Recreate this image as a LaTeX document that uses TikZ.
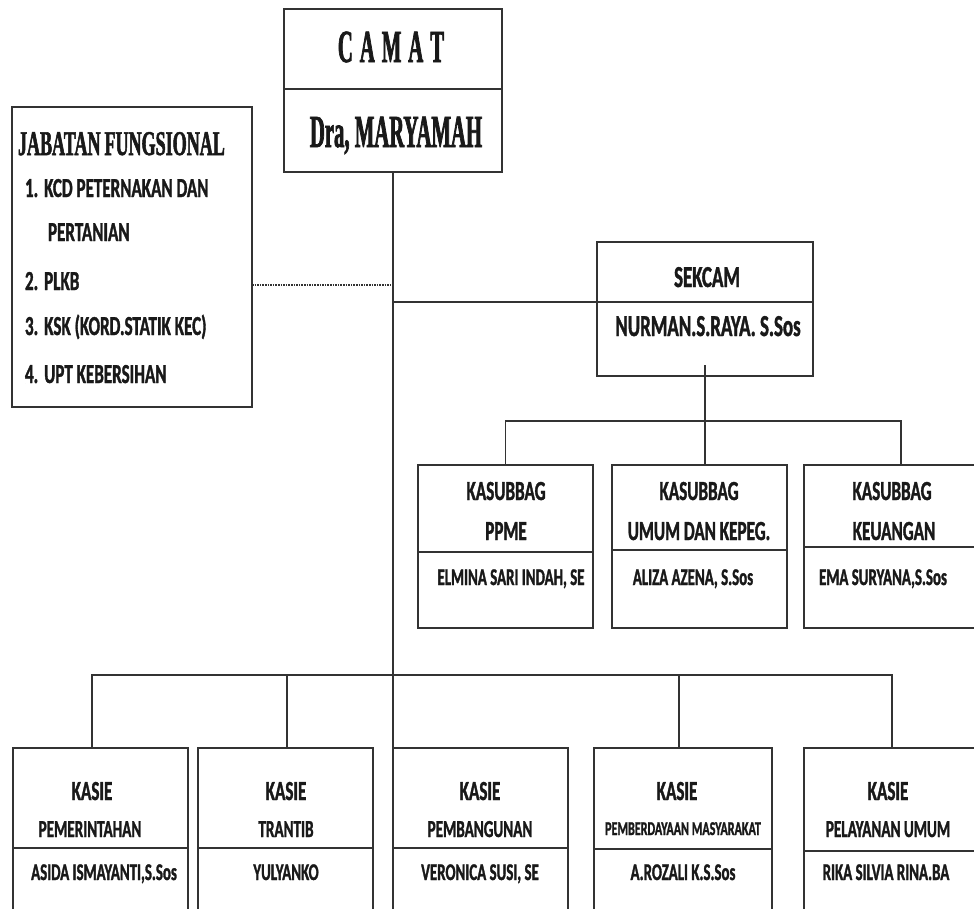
\documentclass[tikz,border=0pt]{standalone}
\usepackage{fontspec}
\newfontfamily\cbf[FakeStretch=0.62,FakeBold=1.2]{Carlito}
\newfontfamily\tmA[FakeStretch=0.45,FakeBold=1.5]{Liberation Serif}
\newfontfamily\tmB[FakeStretch=0.52,FakeBold=1.5]{Liberation Serif}
\newcommand\fhead{\cbf\bfseries\fontsize{27.6}{30}\selectfont}
\newcommand\fsub{\cbf\bfseries\fontsize{24.4}{26}\selectfont}
\newcommand\fname{\cbf\bfseries\fontsize{24}{26}\selectfont}
\newcommand\ftiny{\cbf\bfseries\fontsize{19.5}{21}\selectfont}
\newcommand\fsek{\cbf\bfseries\fontsize{30.5}{32}\selectfont}
\newcommand\fitem{\cbf\bfseries\fontsize{27.5}{30}\selectfont}
\newcommand\fcam{\tmA\bfseries\fontsize{46}{50}\selectfont}
\newcommand\fjt{\tmB\bfseries\fontsize{34.7}{36}\selectfont}
\begin{document}
\begin{tikzpicture}[x=1pt,y=-1pt,
  bx/.style={draw=black!80, line width=1.5pt, inner sep=0, outer sep=0, rectangle},
  dv/.style={draw=black!80, line width=1.4pt},
  ln/.style={draw=black!80, line width=1.1pt},
  tx/.style={inner sep=0, outer sep=0, anchor=base, text=black!90},
  txl/.style={inner sep=0, outer sep=0, anchor=base west, text=black!90}]
\fill[white] (0,0) rectangle (974,908);
\clip (0,0) rectangle (974,908);

% CAMAT
\node[bx, minimum width=218pt, minimum height=163pt] (camat) at (393,90.5) {};
\draw[dv] (284,89) -- (502,89);
\node[tx, font=\fcam] (camatT) at (391,62) {C\kern7pt A\kern7pt M\kern7pt A\kern7pt T};
\node[tx, font=\fcam] (camatN) at (396,147) {Dra, MARYAMAH};

% JABATAN FUNGSIONAL
\node[bx, minimum width=240pt, minimum height=300pt] (jab) at (132,257) {};
\node[txl, font=\fjt] (jabT) at (18,155) {JABATAN\kern4pt FUNGSIONAL};
\node[txl, font=\fitem] (j1) at (25,197) {1.\kern6pt KCD PETERNAKAN DAN};
\node[txl, font=\fitem] (j1b) at (48,241) {PERTANIAN};
\node[txl, font=\fitem] (j2) at (25,290) {2.\kern6pt PLKB};
\node[txl, font=\fitem] (j3) at (25,335) {3.\kern6pt KSK (KORD.STATIK KEC)};
\node[txl, font=\fitem] (j4) at (25,383) {4.\kern6pt UPT KEBERSIHAN};

% SEKCAM
\node[bx, minimum width=216pt, minimum height=134pt] (sekcam) at (705,309) {};
\draw[dv] (597,302) -- (813,302);
\node[tx, font=\fsek] (sekT) at (707,287) {SEKCAM};
\node[tx, font=\fsek] (sekN) at (708,336) {NURMAN.S.RAYA. S.Sos};

% connectors from CAMAT
\coordinate (sdiv) at (597,302);
\coordinate (dj) at (252,285);
\draw[ln] (sdiv) -- (sdiv -| camat.south);
\draw[black!80, line width=1.6pt, densely dotted] (dj) -- (dj -| camat.south);

% KASUBBAG
\node[bx, minimum width=175pt, minimum height=163pt] (kb1) at (505.5,546.5) {};
\node[bx, minimum width=175pt, minimum height=163pt] (kb2) at (699.5,546.5) {};
\node[bx, minimum width=194pt, minimum height=163pt] (kb3) at (901,546.5) {};
\draw[dv] (418,552) -- (593,552);
\draw[dv] (612,550) -- (787,550);
\draw[dv] (804,547) -- (998,547);
\node[tx, font=\fhead] (kb1a) at (506,500) {KASUBBAG};
\node[tx, font=\fhead] (kb1b) at (506,540) {PPME};
\node[tx, font=\fname] (kb1c) at (511,585) {ELMINA SARI INDAH, SE};
\node[tx, font=\fhead] (kb2a) at (699,500) {KASUBBAG};
\node[tx, font=\fhead] (kb2b) at (699,540) {UMUM DAN KEPEG.};
\node[tx, font=\fname] (kb2c) at (693,585) {ALIZA AZENA, S.Sos};
\node[tx, font=\fhead] (kb3a) at (892,500) {KASUBBAG};
\node[tx, font=\fhead] (kb3b) at (894,540) {KEUANGAN};
\node[tx, font=\fname] (kb3c) at (883,585) {EMA SURYANA,S.Sos};

\coordinate (sbar) at (705,421);
\draw[ln] ([yshift=11pt]sekcam.south) -- (sekcam.south |- kb2.north);
\draw[ln] (kb1.north) -- (kb1.north |- sbar) -- (kb3.north |- sbar) -- (kb3.north);

% KASIE
\node[bx, minimum width=175pt, minimum height=192pt] (ks1) at (100.5,844) {};
\node[bx, minimum width=175pt, minimum height=192pt] (ks2) at (285.5,844) {};
\node[bx, minimum width=175pt, minimum height=192pt] (ks3) at (480.5,844) {};
\node[bx, minimum width=178pt, minimum height=192pt] (ks4) at (683,844) {};
\node[bx, minimum width=186pt, minimum height=192pt] (ks5) at (897,844) {};
\draw[dv] (13,848) -- (188,848);
\draw[dv] (198,848) -- (373,848);
\draw[dv] (393,848) -- (568,848);
\draw[dv] (594,849) -- (772,849);
\draw[dv] (804,851) -- (990,851);

\node[tx, font=\fhead] (ks1a) at (92,800) {KASIE};
\node[tx, font=\fsub] (ks1b) at (90,837) {PEMERINTAHAN};
\node[tx, font=\fname] (ks1c) at (104,880) {ASIDA ISMAYANTI,S.Sos};
\node[tx, font=\fhead] (ks2a) at (286,800) {KASIE};
\node[tx, font=\fsub] (ks2b) at (286,837) {TRANTIB};
\node[tx, font=\fname] (ks2c) at (286,880) {YULYANKO};
\node[tx, font=\fhead] (ks3a) at (480,800) {KASIE};
\node[tx, font=\fsub] (ks3b) at (480,837) {PEMBANGUNAN};
\node[tx, font=\fname] (ks3c) at (480,880) {VERONICA SUSI, SE};
\node[tx, font=\fhead] (ks4a) at (677,800) {KASIE};
\node[tx, font=\ftiny] (ks4b) at (683,835) {PEMBERDAYAAN MASYARAKAT};
\node[tx, font=\fname] (ks4c) at (683,880) {A.ROZALI K.S.Sos};
\node[tx, font=\fhead] (ks5a) at (888,800) {KASIE};
\node[tx, font=\fsub] (ks5b) at (888,837) {PELAYANAN UMUM};
\node[tx, font=\fname] (ks5c) at (886,880) {RIKA SILVIA RINA.BA};

\coordinate (t1) at (92,748);
\coordinate (t2) at (287,748);
\coordinate (t4) at (679,748);
\coordinate (t5) at (892,748);
\coordinate (kl) at (92,675);
\draw[ln] (camat.south) -- (camat.south |- ks3.north);
\draw[ln] (t1) -- (kl) -- (kl -| t5) -- (t5);
\draw[ln] (t2) -- (t2 |- kl);
\draw[ln] (t4) -- (t4 |- kl);
\end{tikzpicture}
\end{document}
